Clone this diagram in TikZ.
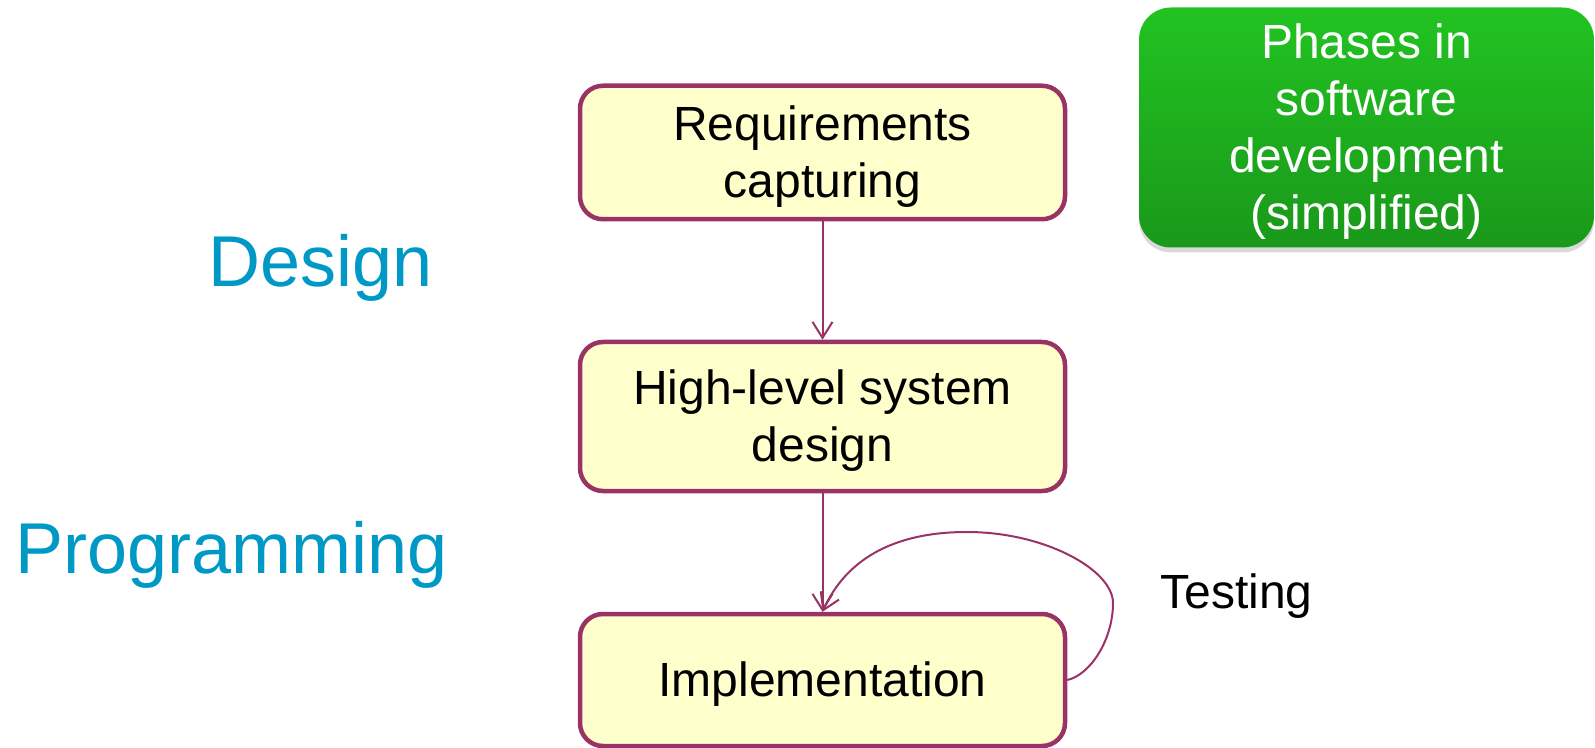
\documentclass[tikz,border=0pt]{standalone}
\usepackage{fontspec}
\setmainfont{Liberation Sans}
\usetikzlibrary{arrows.meta}
\usetikzlibrary{shadows}
\usepackage{xcolor}
\definecolor{plum}{HTML}{993366}
\definecolor{paleyellow}{HTML}{FFFFCC}
\definecolor{phaseblue}{HTML}{0099C6}
\definecolor{greentop}{HTML}{22C322}
\definecolor{greenbottom}{HTML}{1A981A}

% strut with the ascent and descent of the font, so text sits centred like a slide
\newcommand{\linestrut}{\rule[-0.212em]{0pt}{1.117em}}

\tikzset{
  phase/.style={draw=plum, fill=paleyellow, line width=2.25pt, rounded corners=11.5pt,
    minimum width=242.5pt, align=center, font=\fontsize{24}{28.5}\selectfont},
  flow/.style={draw=plum, line width=1pt, -{Straight Barb[length=8pt,width=10pt]}},
  big/.style={text=phaseblue, anchor=base west, inner sep=0pt, font=\fontsize{36}{40}\selectfont},
}

\begin{document}
\begin{tikzpicture}[x=0.5pt, y=-0.5pt]
     \useasboundingbox (0,0) rectangle (1595,748);
     \node[phase, minimum height=66.75pt] (req)  at (822.5,152.5) {\linestrut Requirements\\capturing};
     \node[phase, minimum height=74.5pt]  (hld)  at (822.5,416.5) {\linestrut High-level system\\design};
     \node[phase, minimum height=66pt]    (impl) at (822.5,680)   {\linestrut Implementation};

     \node[big] (design) at (208,287) {Design};
     \node[big] (prog)   at (15,573)  {Programming};
     \node[anchor=base west, inner sep=0pt, font=\fontsize{24}{28}\selectfont] (test) at (1160,608) {Testing};

     % title box, top right
     \node[rounded corners=16pt, top color=greentop, bottom color=greenbottom,
           minimum width=227.5pt, minimum height=120pt, text=white, align=center,
           font=\fontsize{24}{28.5}\selectfont,
           drop shadow={shadow xshift=0pt, shadow yshift=-2.5pt, opacity=.3}]
           (title) at (1366.5,127.5) {\linestrut Phases in\\software\\development\\(simplified)};

     \draw[flow] (req) -- (hld);
     \draw[flow] (hld) -- (impl);
     \draw[flow] (impl.east) .. controls (1090,675) and (1113,640) .. (1113,603)
                 .. controls (1113,570) and (1045,532) .. (967,532)
                 .. controls (890,532) and (845,562) .. (impl.north);
   \end{tikzpicture}
\end{document}
